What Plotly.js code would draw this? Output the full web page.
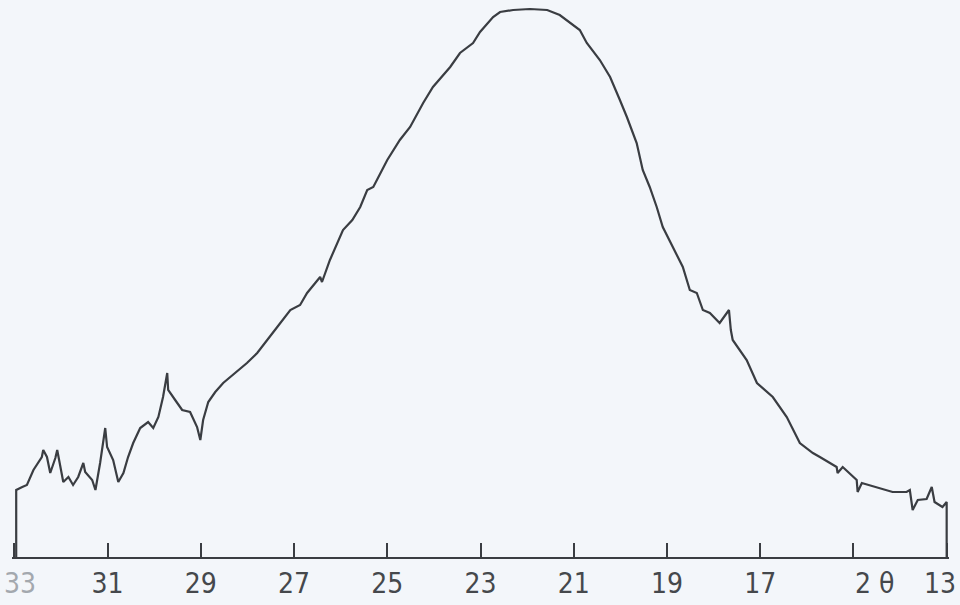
<!DOCTYPE html>
<html>
<head>
<meta charset="utf-8">
<script src="https://cdn.plot.ly/plotly-3.0.1.min.js"></script>
<style>
html,body{margin:0;padding:0;background:#f3f6fa;}
#chart{width:960px;height:605px;}
</style>
</head>
<body>
<div id="chart"></div>
<script>
// 2θ (degrees), scanned diffractogram trace
const twoTheta = [32.96,32.96,32.83,32.73,32.59,32.41,32.38,32.30,32.23,32.12,32.08,32.01,31.95,31.84,31.74,31.63,31.52,31.48,31.33,31.26,31.16,31.05,31.01,30.88,30.77,30.66,30.56,30.45,30.30,30.13,30.02,29.91,29.81,29.72,29.70,29.55,29.40,29.23,29.08,29.01,28.95,28.84,28.69,28.52,28.31,28.01,27.79,27.62,27.36,27.08,26.87,26.72,26.44,26.40,26.23,25.95,25.75,25.58,25.43,25.30,25.15,25.00,24.73,24.51,24.23,24.02,23.65,23.44,23.16,23.01,22.73,22.58,22.30,21.94,21.57,21.30,20.87,20.72,20.44,20.22,20.01,19.86,19.65,19.52,19.37,19.22,19.09,18.87,18.66,18.51,18.36,18.23,18.08,17.87,17.67,17.63,17.59,17.29,17.07,16.73,16.43,16.15,15.87,15.72,15.36,15.34,15.23,14.93,14.91,14.82,14.44,14.16,13.86,13.79,13.73,13.62,13.43,13.32,13.26,13.09,13.00,13.00];
// relative intensity (arbitrary units)
const intensity = [0,67,70,72,87,100,107,100,84,99,107,90,75,80,72,80,94,85,77,67,94,129,110,97,75,84,100,114,129,135,129,140,160,184,167,157,147,145,130,117,137,155,165,174,182,194,204,214,230,247,252,264,280,275,297,327,337,350,367,370,384,397,417,430,454,470,490,504,514,525,540,545,547,548,547,542,527,514,497,480,457,440,414,387,370,350,330,310,290,267,264,247,244,234,247,227,217,197,174,160,140,114,104,100,90,84,90,77,65,74,69,65,65,67,47,57,58,70,55,50,55,0];
// axis ticks (interior labels drawn by the axis; the edge labels and the 2θ label as annotations)
const tickValues = [33,31,29,27,25,23,21,19,17,15,13];
const tickLabels = ["","31","29","27","25","23","21","19","17","",""];
const leftLabel = "33";
const rightLabel = "13";
const axisLabel = "2 θ";
const axisLabelPos = 14.54;

const ink = "#3a3d42";
const fontFam = "Liberation Sans Narrow, DejaVu Sans Condensed, Liberation Sans, sans-serif";
const labelFont = {family: fontFam, size: 28, color: "#45484c"};
const trace = {
  x: twoTheta, y: intensity, type: "scatter", mode: "lines",
  line: {color: ink, width: 2.2}, hoverinfo: "skip", showlegend: false
};
const layout = {
  width: 960, height: 605,
  margin: {l: 12, r: 11, t: 0, b: 48},
  paper_bgcolor: "#f3f6fa", plot_bgcolor: "#f3f6fa",
  showlegend: false,
  xaxis: {
    range: [33.05, 12.95], tickvals: tickValues, ticktext: tickLabels,
    ticks: "inside", ticklen: 14, tickwidth: 2, tickcolor: ink,
    showline: true, linecolor: ink, linewidth: 2,
    showgrid: false, zeroline: false, fixedrange: true,
    ticklabelstandoff: 0,
    tickfont: labelFont
  },
  yaxis: {range: [0, 557], visible: false, fixedrange: true},
  annotations: [
    {x: axisLabelPos, xref: "x", y: 0, yref: "paper", yshift: -26, yanchor: "middle",
     text: axisLabel, showarrow: false, font: labelFont},
    {x: 0, xref: "paper", y: 0, yref: "paper", yshift: -26, yanchor: "middle", xanchor: "left", xshift: -10,
     text: leftLabel, showarrow: false, font: {family: fontFam, size: 28, color: "#a3a8ae"}},
    {x: 1, xref: "paper", y: 0, yref: "paper", yshift: -26, yanchor: "middle", xanchor: "right", xshift: 9,
     text: rightLabel, showarrow: false, font: labelFont}
  ]
};
Plotly.newPlot("chart", [trace], layout, {displayModeBar: false, staticPlot: true});
</script>
</body>
</html>
